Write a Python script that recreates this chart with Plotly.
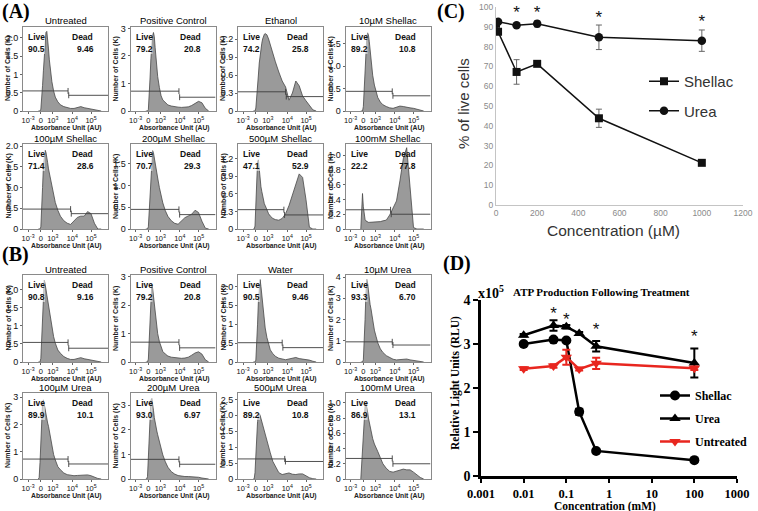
import plotly.graph_objects as go

W, H = 758, 511

# ---------------- data : flow-cytometry histograms (panels A and B) ----------------
hist_x = [18, 19, 20, 21, 22, 23, 24, 25, 26, 27, 28, 29, 30, 31, 32,
          34, 36, 38, 41, 44, 48, 52, 56, 60, 64, 68, 72, 76, 80, 84, 88, 92]
hist_tickvals = [6, 21, 35, 58, 80]
hist_ticktext = ["10<sup>-3</sup>", "0", "10<sup>3</sup>", "10<sup>4</sup>", "10<sup>5</sup>"]

titles = ["Untreated", "Positive Control", "Ethanol", "10µM Shellac",
          "100µM Shellac", "200µM Shellac", "500µM Shellac", "100mM Shellac",
          "Untreated", "Positive Control", "Water", "10µM Urea",
          "100µM Urea", "200µM Urea", "500µM Urea", "100mM Urea"]
live_pct = ["90.5", "79.2", "74.2", "89.2", "71.4", "70.7", "47.1", "22.2",
            "90.8", "79.2", "90.5", "93.3", "89.9", "93.0", "89.2", "86.9"]
dead_pct = ["9.46", "20.8", "25.8", "10.8", "28.6", "29.3", "52.9", "77.8",
            "9.16", "20.8", "9.46", "6.70", "10.1", "6.97", "10.8", "13.1"]

h_a_untreated = [0, 0, 0, .05, .3, .7, 1.1, 1.5, 1.9, 2.15, 2.18, 2.0, 1.7, 1.4, 1.15,
                 .8, .55, .38, .25, .17, .12, .09, .07, .07, .09, .12, .09, .07, .07, .05, .02, 0]
h_a_positive = [0, 0, 0, .05, .5, 1.2, 1.9, 2.4, 2.75, 2.85, 2.7, 2.3, 1.9, 1.55, 1.25,
                .85, .55, .4, .3, .22, .18, .15, .14, .13, .13, .15, .2, .28, .35, .3, .1, 0]
h_a_ethanol = [0, 0, 0, .05, .2, .4, .6, .8, .95, 1.05, 1.13, 1.2, 1.25, 1.28, 1.29,
               1.27, 1.2, 1.1, .98, .82, .65, .5, .4, .18, .3, .5, .42, .25, .17, .09, .02, 0]
h_a_10um = [0, 0, 0, .1, .5, 1.0, 1.4, 1.65, 1.75, 1.7, 1.55, 1.35, 1.15, .95, .8,
            .58, .42, .3, .2, .14, .1, .07, .06, .08, .11, .1, .08, .07, .06, .04, .02, 0]
h_a_100um = [0, 0, 0, .05, .4, 1.0, 1.5, 1.8, 1.9, 1.85, 1.75, 1.6, 1.45, 1.35, 1.25,
             1.0, .82, .64, .45, .31, .2, .14, .11, .2, .28, .31, .31, .42, .37, .14, 0, 0]
h_a_200um = [0, 0, 0, .05, .4, .95, 1.4, 1.7, 1.8, 1.75, 1.65, 1.5, 1.38, 1.27, 1.17,
             .95, .77, .6, .42, .29, .19, .13, .11, .18, .26, .3, .34, .43, .38, .18, .02, 0]
h_a_500um = [0, 0, .05, .4, .9, 1.15, 1.18, 1.0, .85, .72, .64, .55, .48, .43, .4,
             .32, .26, .22, .18, .16, .15, .18, .26, .4, .58, .78, .94, .88, .5, .03, 0, 0]
h_a_100mm = [0, .2, .48, .3, .18, .13, .11, .1, .1, .09, .09, .09, .09, .09, .09,
             .09, .09, .1, .1, .11, .12, .19, .28, .38, .65, .95, 1.1, .5, .02, 0, 0, 0]
h_b_untreated = [0, 0, 0, .1, .6, 1.4, 2.0, 2.26, 2.15, 2.0, 1.8, 1.65, 1.5, 1.37, 1.23,
                 .95, .7, .52, .33, .24, .15, .1, .07, .07, .1, .12, .09, .07, .07, .05, .02, 0]
h_b_positive = [0, 0, 0, .1, .7, 1.6, 2.4, 2.75, 2.6, 2.3, 2.0, 1.7, 1.45, 1.2, 1.0,
                .72, .5, .37, .28, .21, .17, .15, .14, .13, .14, .17, .24, .32, .36, .28, .08, 0]
h_b_water = [0, 0, 0, .05, .4, 1.0, 1.6, 2.05, 2.18, 2.0, 1.75, 1.5, 1.25, 1.05, .9,
             .65, .45, .32, .22, .15, .1, .07, .06, .08, .11, .12, .09, .08, .07, .05, .02, 0]
h_b_10um = [0, 0, 0, .1, .8, 2.0, 3.2, 3.9, 3.7, 3.3, 3.0, 2.7, 2.5, 2.2, 1.95,
            1.5, 1.2, .9, .62, .45, .3, .2, .13, .1, .11, .13, .14, .1, .08, .05, .02, 0]
h_b_100um = [0, .05, .6, 1.5, 2.4, 2.8, 2.9, 2.7, 2.5, 2.3, 2.15, 2.05, 1.93, 1.75, 1.6,
             1.25, .9, .7, .45, .34, .22, .16, .13, .12, .13, .14, .14, .15, .12, .06, .02, 0]
h_b_200um = [0, 0, .1, .9, 2.0, 2.8, 3.2, 3.28, 3.1, 2.8, 2.5, 2.25, 2.1, 1.95, 1.8,
             1.5, 1.2, .98, .7, .48, .3, .2, .14, .11, .1, .1, .1, .09, .07, .04, .01, 0]
h_b_500um = [0, 0, .2, .8, 1.4, 1.8, 2.0, 2.05, 2.0, 1.9, 1.78, 1.65, 1.55, 1.45, 1.35,
             1.15, .98, .82, .55, .4, .2, .14, .16, .19, .15, .14, .16, .16, .1, .04, .01, 0]
h_b_100mm = [0, .22, .25, .5, .8, .95, 1.0, .95, .88, .8, .74, .68, .64, .58, .53,
             .46, .42, .36, .28, .2, .14, .1, .09, .1, .12, .13, .12, .12, .09, .05, .02, 0]

hist_counts = [h_a_untreated, h_a_positive, h_a_ethanol, h_a_10um,
               h_a_100um, h_a_200um, h_a_500um, h_a_100mm,
               h_b_untreated, h_b_positive, h_b_water, h_b_10um,
               h_b_100um, h_b_200um, h_b_500um, h_b_100mm]

y_max = [2.3, 3.05, 1.4, 1.88, 2.05, 1.95, 1.45, 1.15,
         2.4, 3.07, 2.3, 4.1, 3.15, 3.5, 2.7, 1.13]
t_half = ["0", "0.5", "1", "1.5", "2.0"]
t_int3 = ["0", "1", "2", "3"]
t_03 = ["0", "0.3", "0.6", "0.9", "1.2"]
t_05b = ["0", "0.5", "1.0", "1.5"]
t_05c = ["0", "0.5", "1.0", "1.5", "2.0"]
t_02 = ["0", "0.2", "0.4", "0.6", "0.8", "1.0"]
t_int4 = ["0", "1", "2", "3", "4"]
t_25 = ["0", "0.5", "1", "1.5", "2.0", "2.5"]
y_ticktext = [t_half, t_int3, t_03, t_05b, t_05c, t_05b, t_03, t_02,
              t_half, t_int3, t_half, t_int4, t_int3, t_int3, t_25, t_02]

gate_live = [0.55, 0.72, 0.32, 0.44, 0.48, 0.45, 0.33, 0.26,
             0.54, 0.70, 0.51, 0.95, 0.73, 0.80, 0.63, 0.27]
gate_dead = [0.43, 0.50, 0.24, 0.34, 0.37, 0.33, 0.24, 0.20,
             0.38, 0.50, 0.38, 0.80, 0.55, 0.60, 0.55, 0.20]
gate_split = [53, 57, 56, 55, 56, 57, 54, 53,
              53, 57, 52, 55, 53, 57, 55, 55]

# ---------------- data : panel C ----------------
conc_C = [0, 10, 100, 200, 500, 1000]
shellac_C = [91.5, 87.5, 67.2, 71.3, 43.8, 21.3]
shellac_C_err = [0.8, 0.8, 6.2, 1.2, 4.6, 1.0]
urea_C = [92.2, 92.5, 90.8, 91.5, 84.7, 83.0]
urea_C_err = [0.8, 0.8, 0.8, 1.6, 6.2, 5.4]
star_C_x = [100, 200, 500, 1000]
star_C_y = [96.5, 96.5, 94, 92]
C_xticks = [0, 200, 400, 600, 800, 1000, 1200]
C_yticks = [0, 10, 20, 30, 40, 50, 60, 70, 80, 90, 100]

# ---------------- data : panel D ----------------
conc_D = [0.01, 0.05, 0.1, 0.2, 0.5, 100]
shellac_D = [3.0, 3.1, 3.08, 1.46, 0.57, 0.36]
shellac_D_err = [0.03, 0.03, 0.03, 0.07, 0.03, 0.03]
urea_D = [3.2, 3.42, 3.39, 3.24, 2.95, 2.57]
urea_D_err = [0.03, 0.12, 0.04, 0.03, 0.12, 0.33]
untreated_D = [2.44, 2.5, 2.7, 2.43, 2.56, 2.45]
untreated_D_err = [0.03, 0.04, 0.17, 0.03, 0.13, 0.04]
star_D_x = [0.05, 0.1, 0.5, 100]
star_D_y = [3.67, 3.53, 3.29, 3.15]
D_xticks = [0.001, 0.01, 0.1, 1, 10, 100, 1000]
D_xticktext = ["0.001", "0.01", "0.1", "1", "10", "100", "1000"]
D_yticks = [0, 1, 2, 3, 4]

# ---------------- layout (pixels) ----------------
col_left = [23, 130.5, 238, 345.5]
box_w = 85
row_top = [27, 144, 275, 393]
row_bot = [111, 229, 362, 479]


def fx(p):
    return p / W


def fy(p):
    return 1 - p / H


SANS = "Liberation Sans, Arial, sans-serif"
SERIF = "Liberation Serif, Times New Roman, serif"

fig = go.Figure()
ann = []
shapes = []
lay = {}


def note(text, px, py, size, family=SANS, color="#111", xanchor="center", angle=0):
    ann.append(dict(text=text, x=fx(px), y=fy(py), xref="paper", yref="paper",
                    xanchor=xanchor, yanchor="middle", showarrow=False, textangle=angle,
                    font=dict(family=family, size=size, color=color)))


for i in range(16):
    r, c = divmod(i, 4)
    k = i + 1
    xs = "x" if k == 1 else f"x{k}"
    ys = "y" if k == 1 else f"y{k}"
    left = col_left[c]
    right = left + box_w
    top = row_top[r]
    bot = row_bot[r]
    ym = y_max[i]

    fig.add_trace(go.Scatter(
        x=hist_x, y=hist_counts[i], mode="lines", fill="tozeroy",
        fillcolor="#9a9a9a", line=dict(color="#484848", width=0.8),
        xaxis=xs, yaxis=ys, showlegend=False, hoverinfo="skip"))

    d = 0.035 * ym
    L = gate_live[i]
    D = gate_dead[i]
    s = gate_split[i]
    fig.add_trace(go.Scatter(
        x=[0, s, None, s, s], y=[L, L, None, L - d, L + d], mode="lines",
        line=dict(color="#3c3c3c", width=0.9), xaxis=xs, yaxis=ys,
        showlegend=False, hoverinfo="skip"))
    fig.add_trace(go.Scatter(
        x=[s + 0.8, 100, None, s + 0.8, s + 0.8], y=[D, D, None, D - d, D + d], mode="lines",
        line=dict(color="#3c3c3c", width=0.9), xaxis=xs, yaxis=ys,
        showlegend=False, hoverinfo="skip"))

    tv = [float(t) for t in y_ticktext[i]]
    lay["xaxis" if k == 1 else f"xaxis{k}"] = dict(
        domain=[fx(left), fx(right)], range=[0, 100], anchor=ys, automargin=False,
        tickvals=hist_tickvals, ticktext=hist_ticktext,
        tickfont=dict(family=SANS, size=7.5, color="#111"),
        ticks="outside", ticklen=2, tickcolor="#666",
        showline=True, mirror=True, linecolor="#8a8a8a", linewidth=1,
        showgrid=False, zeroline=False, fixedrange=True)
    lay["yaxis" if k == 1 else f"yaxis{k}"] = dict(
        domain=[fy(bot), fy(top)], range=[0, ym], anchor=xs, automargin=False,
        tickvals=tv, ticktext=y_ticktext[i],
        tickfont=dict(family=SANS, size=9, color="#111"),
        ticks="outside", ticklen=2, tickcolor="#666",
        showline=True, mirror=True, linecolor="#8a8a8a", linewidth=1,
        showgrid=False, zeroline=False, fixedrange=True)

    # light label background
    shapes.append(dict(type="rect", xref="paper", yref="paper",
                       x0=fx(left + 1.5), x1=fx(left + 22), y0=fy(top + 27), y1=fy(top + 3),
                       fillcolor="rgba(255,255,255,0.55)", line=dict(width=0), layer="above"))

    cx = (left + right) / 2
    note(titles[i], cx, top - 6, 9.5, color="#000")
    note("<b>Absorbance Unit (AU)</b>", cx + 1, bot + 17, 6.8, color="#222")
    note("<b>Number of Cells (K)</b>", left - 15, (top + bot) / 2, 7, color="#222", angle=-90)
    note("<b>Live</b>", left + 3, top + 10, 8.5, xanchor="left")
    note("<b>" + live_pct[i] + "</b>", left + 3, top + 22, 8.5, xanchor="left")
    note("<b>Dead</b>", left + 0.7 * box_w, top + 10, 8.5)
    note("<b>" + dead_pct[i] + "</b>", left + 0.73 * box_w, top + 22, 8.5)

# ---------------- panel C ----------------
fig.add_trace(go.Scatter(
    x=conc_C, y=shellac_C, name="Shellac", mode="lines+markers",
    marker=dict(symbol="square", size=8, color="#111"),
    line=dict(color="#111", width=1.5),
    error_y=dict(type="data", array=shellac_C_err, color="#666", thickness=1, width=3),
    xaxis="x17", yaxis="y17", legend="legend", legendgroup="cs", hoverinfo="skip"))
fig.add_trace(go.Scatter(
    x=conc_C, y=urea_C, name="Urea", mode="lines+markers",
    marker=dict(symbol="circle", size=8.5, color="#111"),
    line=dict(color="#111", width=1.5),
    error_y=dict(type="data", array=urea_C_err, color="#666", thickness=1, width=3),
    xaxis="x17", yaxis="y17", legend="legend", legendgroup="cu", hoverinfo="skip"))
fig.add_trace(go.Scatter(
    x=star_C_x, y=star_C_y, mode="text", text=["*"] * len(star_C_x),
    textfont=dict(family=SANS, size=17, color="#111"),
    xaxis="x17", yaxis="y17", showlegend=False, hoverinfo="skip", cliponaxis=False))

lay["xaxis17"] = dict(domain=[fx(496), fx(743)], range=[0, 1200], anchor="y17", automargin=False,
                      tickvals=C_xticks, tickfont=dict(family=SANS, size=8.5, color="#8a8a8a"),
                      showline=True, linecolor="#c4c4c4", linewidth=1, ticks="",
                      showgrid=False, zeroline=False, fixedrange=True)
lay["yaxis17"] = dict(domain=[fy(205), fy(7)], range=[0, 100], anchor="x17", automargin=False,
                      tickvals=C_yticks, tickfont=dict(family=SANS, size=8.5, color="#8a8a8a"),
                      showline=True, linecolor="#c4c4c4", linewidth=1, ticks="",
                      showgrid=False, zeroline=False, fixedrange=True)
note("% of live cells", 463, 104, 15, color="#333", angle=-90)
note("Concentration (µM)", 613, 230, 15.5, color="#333")

# ---------------- panel D ----------------
fig.add_trace(go.Scatter(
    x=conc_D, y=shellac_D, name="<b>Shellac</b>", mode="lines+markers",
    marker=dict(symbol="circle", size=10, color="#000"),
    line=dict(color="#000", width=2.5),
    error_y=dict(type="data", array=shellac_D_err, color="#000", thickness=2, width=4),
    xaxis="x18", yaxis="y18", legend="legend2", legendgroup="ds", hoverinfo="skip"))
fig.add_trace(go.Scatter(
    x=conc_D, y=urea_D, name="<b>Urea</b>", mode="lines+markers",
    marker=dict(symbol="triangle-up", size=10, color="#000"),
    line=dict(color="#000", width=2.5),
    error_y=dict(type="data", array=urea_D_err, color="#000", thickness=2, width=4),
    xaxis="x18", yaxis="y18", legend="legend2", legendgroup="du", hoverinfo="skip"))
fig.add_trace(go.Scatter(
    x=conc_D, y=untreated_D, name="<b>Untreated</b>", mode="lines+markers",
    marker=dict(symbol="triangle-down", size=10, color="#e8261f"),
    line=dict(color="#e8261f", width=2.5),
    error_y=dict(type="data", array=untreated_D_err, color="#e8261f", thickness=2, width=4),
    xaxis="x18", yaxis="y18", legend="legend2", legendgroup="dt", hoverinfo="skip"))
fig.add_trace(go.Scatter(
    x=star_D_x, y=star_D_y, mode="text", text=["*"] * len(star_D_x),
    textfont=dict(family=SANS, size=17, color="#111"),
    xaxis="x18", yaxis="y18", showlegend=False, hoverinfo="skip", cliponaxis=False))

lay["xaxis18"] = dict(domain=[fx(481), fx(737)], type="log", range=[-3, 3], anchor="y18",
                      automargin=False, tickvals=D_xticks, ticktext=D_xticktext,
                      tickfont=dict(family=SERIF, size=12.5, color="#000", weight="bold"),
                      showline=True, linecolor="#000", linewidth=2.5,
                      ticks="outside", ticklen=4, tickwidth=2, tickcolor="#000",
                      showgrid=False, zeroline=False, fixedrange=True)
lay["yaxis18"] = dict(domain=[fy(476), fy(300)], range=[0, 4], anchor="x18", automargin=False,
                      tickvals=D_yticks,
                      tickfont=dict(family=SERIF, size=14, color="#000", weight="bold"),
                      showline=True, linecolor="#000", linewidth=2.5,
                      ticks="outside", ticklen=5, tickwidth=2, tickcolor="#000",
                      showgrid=False, zeroline=False, fixedrange=True)
note("<b>x10<sup>5</sup></b>", 491, 292, 14, family=SERIF, color="#000")
note("<b>ATP Production Following Treatment</b>", 601, 292, 11, family=SERIF, color="#000")
note("<b>Relative Light Units (RLU)</b>", 455, 383, 11.5, family=SERIF, color="#000", angle=-90)
note("<b>Concentration (mM)</b>", 605, 506, 11.5, family=SERIF, color="#000")

# ---------------- panel letters ----------------
for lab, px, py in [("(A)", 16, 11), ("(B)", 15, 254), ("(C)", 451, 11), ("(D)", 457, 263)]:
    note("<b>" + lab + "</b>", px, py, 20, family=SERIF, color="#000")

fig.update_layout(
    template="none",
    width=W, height=H, margin=dict(l=0, r=0, t=0, b=0, autoexpand=False),
    paper_bgcolor="white", plot_bgcolor="white",
    annotations=ann, shapes=shapes,
    legend=dict(x=fx(644), y=fy(65), xanchor="left", yanchor="top",
                font=dict(family=SANS, size=15, color="#333"),
                bgcolor="rgba(0,0,0,0)", tracegroupgap=7, itemwidth=30),
    legend2=dict(x=fx(655), y=fy(381), xanchor="left", yanchor="top",
                 font=dict(family=SERIF, size=12, color="#000"),
                 bgcolor="rgba(0,0,0,0)", tracegroupgap=4, itemwidth=30),
    **lay)

fig.write_html("out.html", config={"displayModeBar": False},
               post_script="document.body.style.margin='0';document.body.style.overflow='hidden';")
